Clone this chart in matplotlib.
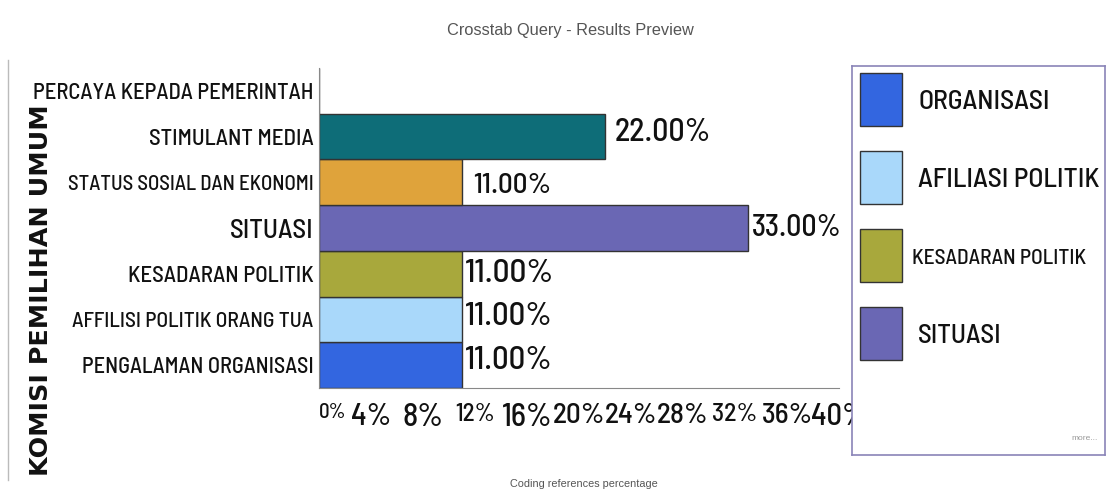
import matplotlib.pyplot as plt
from matplotlib.patches import Rectangle
from matplotlib.lines import Line2D

# data
categories = ["PENGALAMAN ORGANISASI", "AFFILISI POLITIK ORANG TUA", "KESADARAN POLITIK",
              "SITUASI", "STATUS SOSIAL DAN EKONOMI", "STIMULANT MEDIA", "PERCAYA KEPADA PEMERINTAH"]
values = [11.0, 11.0, 11.0, 33.0, 11.0, 22.0, 0.0]
bar_colors = ["#3366e0", "#a9d8fa", "#a8a83c", "#6a67b4", "#dfa33b", "#0e6d78", "#ffffff"]
x_ticks = [0, 4, 8, 12, 16, 20, 24, 28, 32, 36, 40]
legend_labels = ["ORGANISASI", "AFILIASI POLITIK", "KESADARAN POLITIK", "SITUASI"]
legend_colors = ["#3366e0", "#a9d8fa", "#a8a83c", "#6a67b4"]

# the video-captured look has uneven text sizes, kept per label
ytick_sizes = [16, 15.5, 16.5, 19.5, 15, 16.5, 16.3]
xtick_sizes = [15, 22, 23, 18, 23, 21, 21, 21, 18.5, 21, 22]
value_sizes = [23.5, 23.5, 24, 21.5, 21, 23, 0]
value_offsets = [(2, 3), (2, 2), (2, 0), (3, 0), (8, -3), (7, 3), (0, 0)]

narrow = ["Barlow Semi Condensed", "Roboto Condensed", "DejaVu Sans"]
plain = ["Liberation Sans", "DejaVu Sans"]

fig = plt.figure(figsize=(11.1, 4.92), dpi=100)
ax = fig.add_axes([319 / 1110, 1 - 388 / 492, 520 / 1110, 320 / 492])

ypos = list(range(len(categories)))
ax.barh(ypos, values, height=1.0, color=bar_colors, edgecolor="#333333", linewidth=1.0)

for y, v, s, off in zip(ypos, values, value_sizes, value_offsets):
    if v > 0:
        ax.annotate(f"{v:.2f}%", (v, y), xytext=off, textcoords="offset points",
                    va="center", ha="left", fontsize=s, family=narrow, weight="medium",
                    color="#111111")

ax.set_xlim(0, 40)
ax.set_ylim(-0.5, 6.5)
ax.set_yticks(ypos)
ax.set_yticklabels(categories, family=narrow, weight="medium", color="#111111")
for lab, s in zip(ax.get_yticklabels(), ytick_sizes):
    lab.set_fontsize(s)
ax.set_xticks(x_ticks)
ax.set_xticklabels([f"{t}%" for t in x_ticks], family=narrow, weight="medium", color="#111111")
for lab, s in zip(ax.get_xticklabels(), xtick_sizes):
    lab.set_fontsize(s)
ax.get_xticklabels()[0].set_horizontalalignment("left")
ax.tick_params(axis="both", length=0)
ax.tick_params(axis="x", pad=11)
ax.tick_params(axis="y", pad=4)
for side in ["top", "right"]:
    ax.spines[side].set_visible(False)
ax.spines["left"].set_color("#888888")
ax.spines["bottom"].set_color("#888888")

fig.text(570 / 1110, 1 - 31 / 492, "Crosstab Query - Results Preview", ha="center", va="center",
         fontsize=11.8, family=plain, color="#555555")
fig.text(584 / 1110, 1 - 484 / 492, "Coding references percentage", ha="center", va="center",
         fontsize=7.8, family=plain, color="#555555")
fig.text(41 / 1110, 1 - 290 / 492, "KOMISI PEMILIHAN UMUM", rotation=90, ha="center", va="center",
         fontsize=18.3, family="DejaVu Sans", weight="bold", color="#111111")

# thin screen border on the left
fig.add_artist(Line2D([8 / 1110, 8 / 1110], [1 - 480 / 492, 1 - 60 / 492],
                      transform=fig.transFigure, color="#bbbbbb", linewidth=1.0))

# legend box
lax = fig.add_axes([852 / 1110, 1 - 455 / 492, 253 / 1110, 389 / 492])
lax.set_xlim(0, 253)
lax.set_ylim(389, 0)
lax.set_xticks([])
lax.set_yticks([])
for sp in lax.spines.values():
    sp.set_color("#8a84b8")
    sp.set_linewidth(1.2)
legend_sizes = [20, 20, 15.5, 19.5]
legend_x = [66, 66, 60, 66]
for i, (lab, col) in enumerate(zip(legend_labels, legend_colors)):
    top = 7 + i * 78
    lax.add_patch(Rectangle((8, top), 42, 53, facecolor=col, edgecolor="#333333", linewidth=1.0))
    lax.text(legend_x[i], top + 29, lab, va="center", ha="left",
             fontsize=legend_sizes[i], family=narrow, weight="medium", color="#111111")
lax.text(246, 372, "more...", ha="right", va="center", fontsize=6, family=plain, color="#999999")

fig.savefig("out.png", dpi=100)
